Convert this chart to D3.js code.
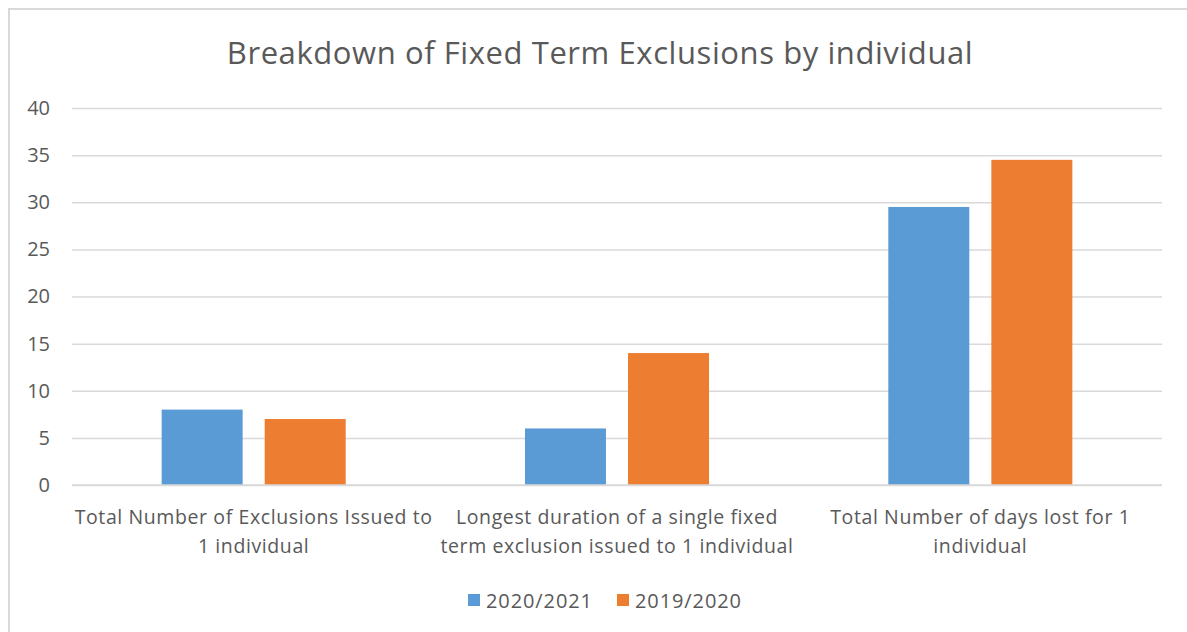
<!DOCTYPE html>
<html><head><meta charset="utf-8">
<script src="https://cdn.jsdelivr.net/npm/d3@7"></script>
<style>
html,body{margin:0;padding:0;background:#fff;}
svg{display:block;font-family:"Open Sans",sans-serif;}
</style></head>
<body><svg id="c" width="1187" height="632"></svg>
<script>
const title = "Breakdown of Fixed Term Exclusions by individual";
const categories = [
  ["Total Number of Exclusions Issued to", "1 individual"],
  ["Longest duration of a single fixed", "term exclusion issued to 1 individual"],
  ["Total Number of days lost for 1", "individual"]
];
const seriesNames = ["2020/2021", "2019/2020"];
const colors = ["#5b9bd5", "#ed7d31"];
const values2020_2021 = [8, 6, 29.5];
const values2019_2020 = [7, 14, 34.5];
const yTicks = [0, 5, 10, 15, 20, 25, 30, 35, 40];

const seriesValues = [values2020_2021, values2019_2020];
const svg = d3.select("#c");
const textColor = "#595959";

// chart border
svg.append("rect").attr("x", 9).attr("y", 9).attr("width", 1200).attr("height", 700)
  .attr("fill", "#fff").attr("stroke", "#d9d9d9").attr("stroke-width", 2);

const plot = {left: 72, right: 1162, top: 108, bottom: 485};
const y = d3.scaleLinear().domain([0, 40]).range([plot.bottom, plot.top]);
const x0 = d3.scaleBand().domain(d3.range(categories.length)).range([plot.left, plot.right]).padding(0);
const x1 = d3.scaleBand().domain(d3.range(seriesNames.length)).range([0, x0.bandwidth()])
  .paddingInner(0.214).paddingOuter(0.87);

// gridlines
const yAxis = d3.axisLeft(y).tickValues(yTicks).tickSize(-(plot.right - plot.left)).tickPadding(22);
const ga = svg.append("g").attr("transform", `translate(${plot.left},0)`).call(yAxis);
ga.select(".domain").remove();
ga.selectAll(".tick line").attr("stroke", "#d9d9d9").attr("stroke-width", 1.5);
ga.selectAll(".tick text").attr("fill", textColor).style("font-size", "20px")
  .style("font-family", "'Open Sans',sans-serif");

// bars
const groups = svg.append("g").selectAll("g").data(categories).join("g")
  .attr("transform", (d, i) => `translate(${x0(i)},0)`);
groups.selectAll("rect").data((d, i) => seriesValues.map((s, j) => ({j, v: s[i]})))
  .join("rect")
  .attr("x", d => x1(d.j)).attr("width", x1.bandwidth())
  .attr("y", d => y(d.v)).attr("height", d => y(0) - y(d.v))
  .attr("fill", d => colors[d.j]);

// baseline
svg.append("line").attr("x1", plot.left).attr("x2", plot.right)
  .attr("y1", y(0)).attr("y2", y(0)).attr("stroke", "#d9d9d9").attr("stroke-width", 1.5);

// category labels
groups.each(function(d, i) {
  const t = d3.select(this).append("text").attr("text-anchor", "middle")
    .attr("fill", textColor).style("font-size", "19.5px").style("letter-spacing", "0.6px");
  d.forEach((line, k) => {
    t.append("tspan").attr("x", x0.bandwidth() / 2).attr("y", 524 + k * 29).text(line);
  });
});

// title
svg.append("text").attr("x", 600).attr("y", 64).attr("text-anchor", "middle")
  .attr("fill", textColor).style("font-size", "31px").style("letter-spacing", "0.58px").text(title);

// legend
const legX = [468, 617];
const leg = svg.append("g").selectAll("g").data(seriesNames).join("g")
  .attr("transform", (d, i) => `translate(${legX[i]},594)`);
leg.append("rect").attr("width", 12).attr("height", 12).attr("fill", (d, i) => colors[i]);
leg.append("text").attr("x", 18).attr("y", 14).attr("fill", textColor)
  .style("font-size", "20px").style("letter-spacing", "0.9px").text(d => d);
</script></body></html>
